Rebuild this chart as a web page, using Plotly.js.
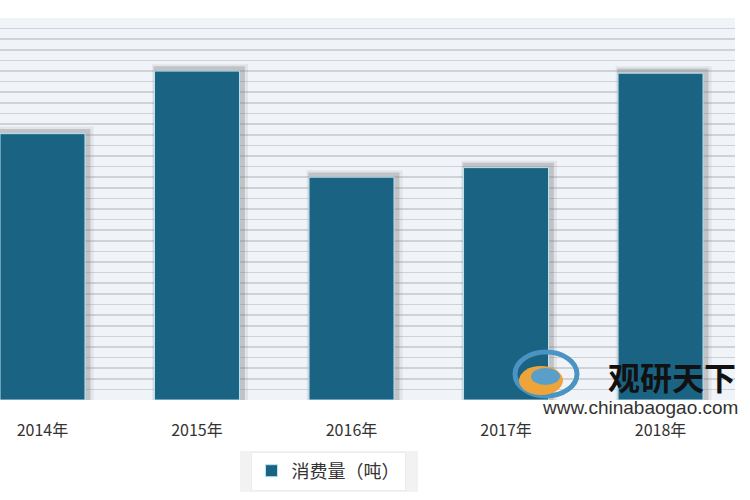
<!DOCTYPE html>
<html>
<head>
<meta charset="utf-8">
<script src="https://cdn.plot.ly/plotly-2.35.2.min.js"></script>
<style>html,body{margin:0;padding:0;background:#fff}#chart{width:750px;height:500px}</style>
</head>
<body>
<div id="chart"></div>
<script>
// Data (tick labels, series)
const categories = ['2014年', '2015年', '2016年', '2017年', '2018年'];
const seriesName = '消费量（吨）';
const consumption = [25.1, 31.0, 21.0, 21.9, 30.8];
const shadowExtra = consumption.map(v => v + 0.45);

const barColor = '#1a6383';
const fontFamily = '"Noto Sans CJK SC", "Noto Sans", sans-serif';

const shadowOuter = {
  type: 'bar', x: categories, y: shadowExtra.map(v => v + 0.2),
  width: 0.62, offset: -0.29,
  marker: {color: 'rgba(120,120,120,0.12)', line: {width: 0}},
  showlegend: false, hoverinfo: 'skip'
};
const shadowInner = {
  type: 'bar', x: categories, y: shadowExtra,
  width: 0.59, offset: -0.28,
  marker: {color: 'rgba(120,120,120,0.3)', line: {width: 0}},
  showlegend: false, hoverinfo: 'skip'
};
const bars = {
  type: 'bar', x: categories, y: consumption, name: seriesName,
  width: 0.55,
  marker: {color: barColor, line: {color: '#b9e3f0', width: 1}}
};

// plot area in pixels: x 0..735, y 18..400
const px = v => v / 735;
const py = v => (400 - v) / 382;

const layout = {
  width: 750, height: 500,
  margin: {l: 0, r: 15, t: 18, b: 100},
  paper_bgcolor: '#ffffff',
  plot_bgcolor: '#f0f3f8',
  barmode: 'overlay',
  font: {family: fontFamily, color: '#333333'},
  xaxis: {
    type: 'category', range: [-0.275, 4.482],
    showgrid: false, zeroline: false, showline: false,
    ticks: 'outside', ticklen: 16, tickcolor: 'rgba(0,0,0,0)',
    tickfont: {size: 16, color: '#333333', family: fontFamily}
  },
  yaxis: {
    range: [0, 36], dtick: 1, showticklabels: false,
    showgrid: true, gridcolor: '#ced2d7', gridwidth: 1.6,
    zeroline: false, showline: false, ticks: ''
  },
  legend: {
    orientation: 'h', x: px(328), xanchor: 'center', y: py(471), yanchor: 'middle',
    bgcolor: '#ffffff', bordercolor: '#ececec', borderwidth: 1,
    font: {size: 18, color: '#333333', family: fontFamily},
    itemwidth: 30
  },
  shapes: [
    // legend box shadow
    {type: 'rect', xref: 'paper', yref: 'paper', x0: px(240), x1: px(418), y0: py(492), y1: py(451),
     fillcolor: 'rgba(0,0,0,0.05)', line: {width: 0}, layer: 'below'},
    // watermark logo (approximation)
    {type: 'circle', xref: 'paper', yref: 'paper', x0: px(515), x1: px(577), y0: py(396), y1: py(352),
     fillcolor: 'rgba(0,0,0,0)', line: {color: '#4a94c4', width: 5}, layer: 'above'},
    {type: 'circle', xref: 'paper', yref: 'paper', x0: px(519), x1: px(563), y0: py(395), y1: py(366),
     fillcolor: '#efa43a', line: {width: 0}, layer: 'above'},
    {type: 'circle', xref: 'paper', yref: 'paper', x0: px(531), x1: px(560), y0: py(385), y1: py(368),
     fillcolor: '#5a9fc9', line: {width: 0}, layer: 'above'}
  ],
  annotations: [
    {text: '<b>观研天下</b>', xref: 'paper', yref: 'paper', x: px(737), y: py(376),
     xanchor: 'right', yanchor: 'middle', showarrow: false, borderpad: 0,
     font: {size: 32, color: '#111111', family: fontFamily}},
    {text: 'www.chinabaogao.com', xref: 'paper', yref: 'paper', x: px(739), y: py(407),
     xanchor: 'right', yanchor: 'middle', showarrow: false, borderpad: 0,
     font: {size: 19, color: '#333333', family: 'Liberation Sans, Arial, sans-serif'}}
  ]
};

Plotly.newPlot('chart', [shadowOuter, shadowInner, bars], layout, {displayModeBar: false, staticPlot: true});
</script>
</body>
</html>
